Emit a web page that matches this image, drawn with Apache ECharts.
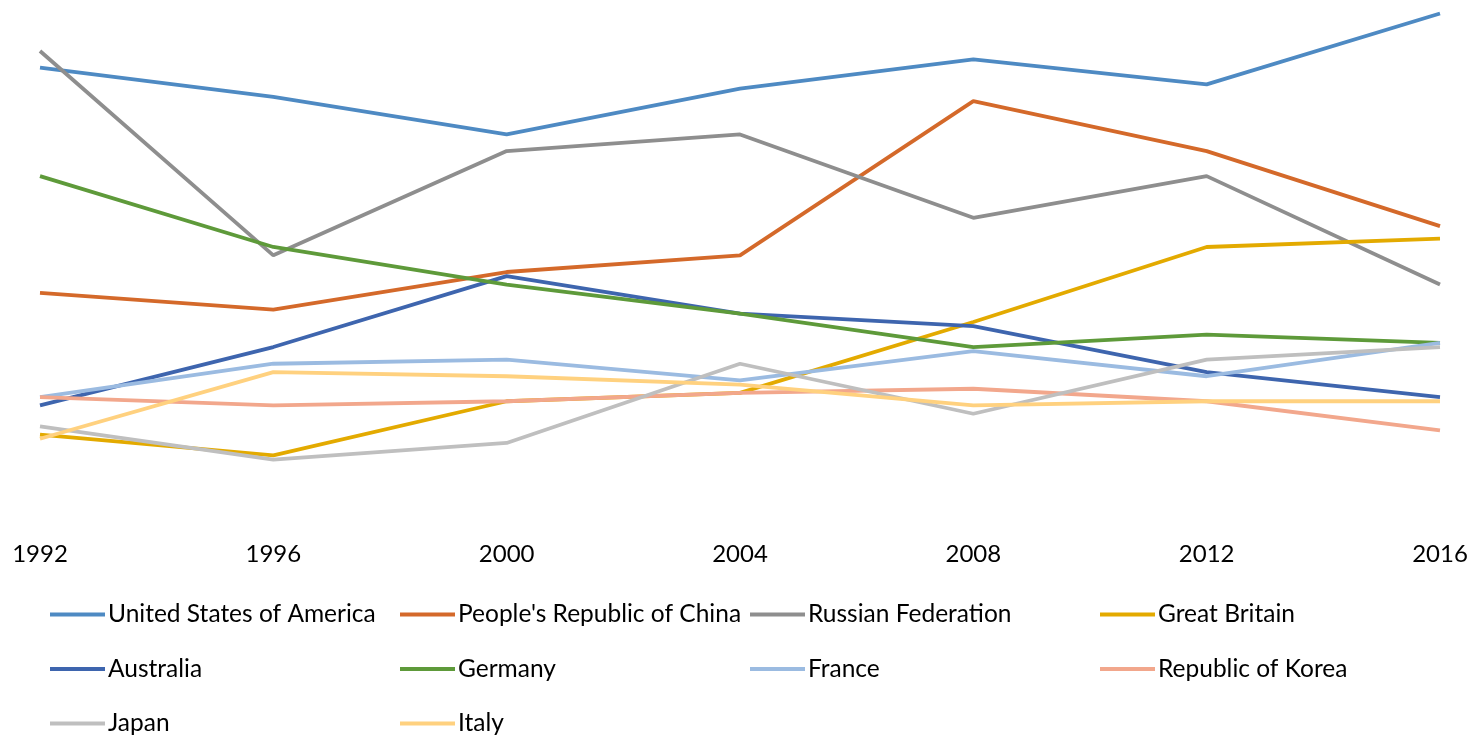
<!DOCTYPE html>
<html><head><meta charset="utf-8">
<script src="https://cdn.jsdelivr.net/npm/echarts@6/dist/echarts.min.js"></script>
<style>html,body{margin:0;padding:0;background:#fff}#c{width:1473px;height:735px}</style>
</head><body><div id="c"></div>
<script>
const years = ['1992','1996','2000','2004','2008','2012','2016'];
const usa = [108,101,92,103,110,104,121];
const china = [54,50,59,63,100,88,70];
const russia = [112,63,88,92,72,82,56];
const gb = [20,15,28,30,47,65,67];
const australia = [27,41,58,49,46,35,29];
const germany = [82,65,56,49,41,44,42];
const france = [29,37,38,33,40,34,42];
const korea = [29,27,28,30,31,28,21];
const japan = [22,14,18,37,25,38,41];
const italy = [19,35,34,32,27,28,28];

const names = ['United States of America',"People's Republic of China",'Russian Federation','Great Britain','Australia','Germany','France','Republic of Korea','Japan','Italy'];
const values = [usa,china,russia,gb,australia,germany,france,korea,japan,italy];
const colors = ['#4E8AC3','#D4692A','#8E8E8E','#E3AA00','#3E65AE','#5E9A3A','#9BBBE1','#F2A78C','#BFBFBF','#FFD17F'];

const font = 'Lato, "Open Sans", sans-serif';
const cols = [[0,4,8],[1,5,9],[2,6],[3,7]];
const legendLeft = [50,400,750,1100];
const legends = cols.map((c,i)=>({
  orient:'vertical', left:legendLeft[i], top:602, height:200, itemGap:29.5, padding:0,
  itemWidth:55, itemHeight:4, icon:'rect',
  data:c.map(k=>names[k]),
  textStyle:{fontFamily:font,fontSize:24.5,lineHeight:24,color:'#000',padding:[0,0,0,-2]}
}));

const chart = echarts.init(document.getElementById('c'));
chart.setOption({
  animation:false,
  color:colors,
  grid:{left:40,right:33,top:1,bottom:217,containLabel:false},
  legend:legends,
  xAxis:{type:'category',data:years,boundaryGap:false,
    axisLine:{show:false},axisTick:{show:false},splitLine:{show:false},
    axisLabel:{fontFamily:font,fontSize:24,color:'#000',margin:24}},
  yAxis:{type:'value',min:0,max:124,show:false,splitLine:{show:false}},
  series:names.map((n,i)=>({name:n,type:'line',data:values[i],symbol:'none',
    lineStyle:{width:3.8,color:colors[i]},itemStyle:{color:colors[i]}}))
});
</script></body></html>
